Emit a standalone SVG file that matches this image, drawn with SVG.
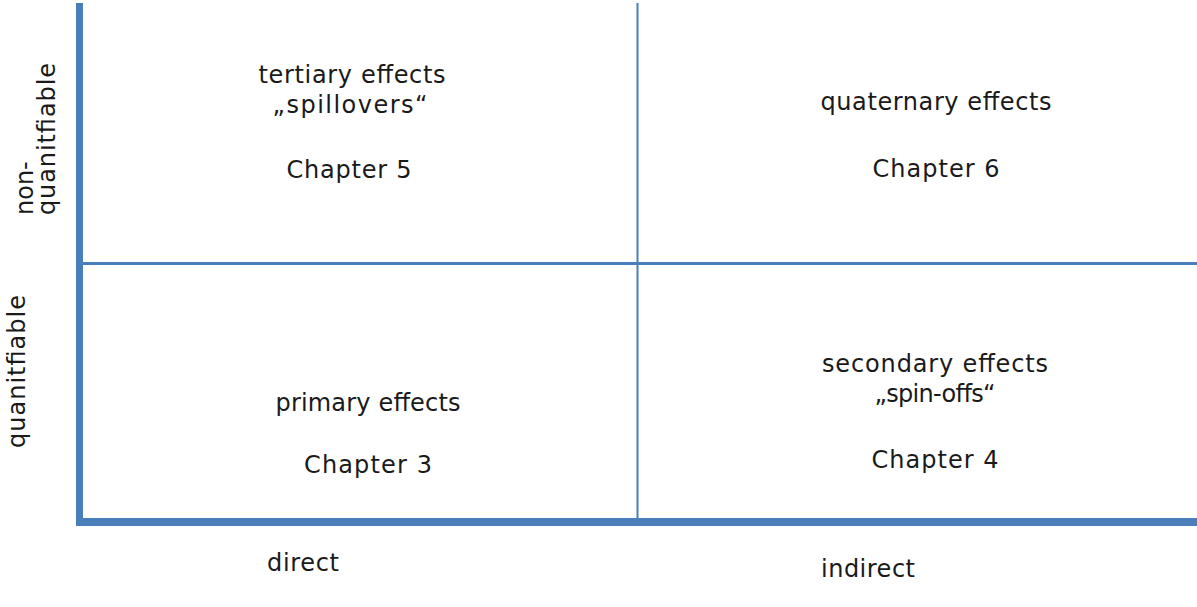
<svg xmlns="http://www.w3.org/2000/svg" width="1197" height="607" viewBox="0 0 1197 607">
<style>
.t{font-family:"DejaVu Sans",sans-serif;font-size:24px;fill:#1a1a1a;text-anchor:middle}
.r{font-family:"DejaVu Sans",sans-serif;font-size:24px;fill:#1a1a1a;text-anchor:start}
.ln{fill:#4a7ebb}
</style>
<rect width="1197" height="607" fill="#ffffff"/>
<g id="connectors">
<rect class="ln" x="76" y="3" width="7" height="519"/>
<rect class="ln" x="76" y="518" width="1121" height="8"/>
<rect class="ln" x="83" y="262" width="1114" height="3"/>
<rect class="ln" x="636.5" y="3" width="2" height="515"/>
</g>
<g id="tertiary">
<text class="t" x="352" y="83" textLength="187" lengthAdjust="spacing">tertiary effects</text>
<text class="t" x="350" y="113" textLength="155" lengthAdjust="spacing">„spillovers“</text>
<text class="t" x="349" y="178" textLength="125" lengthAdjust="spacing">Chapter 5</text>
</g>
<g id="quaternary">
<text class="t" x="936" y="110" textLength="231" lengthAdjust="spacing">quaternary effects</text>
<text class="t" x="936" y="177" textLength="127" lengthAdjust="spacing">Chapter 6</text>
</g>
<g id="primary">
<text class="t" x="368" y="411" textLength="185" lengthAdjust="spacing">primary effects</text>
<text class="t" x="368" y="473" textLength="128" lengthAdjust="spacing">Chapter 3</text>
</g>
<g id="secondary">
<text class="t" x="935" y="372" textLength="226" lengthAdjust="spacing">secondary effects</text>
<text class="t" x="935" y="402" textLength="121" lengthAdjust="spacing">„spin-offs“</text>
<text class="t" x="935" y="468" textLength="127" lengthAdjust="spacing">Chapter 4</text>
</g>
<g id="axis-y">
<text class="r" transform="translate(33,215) rotate(-90)">non-</text>
<text class="r" transform="translate(55,215) rotate(-90)" textLength="152" lengthAdjust="spacing">quanitfiable</text>
<text class="r" transform="translate(25,448) rotate(-90)" textLength="153" lengthAdjust="spacing">quanitfiable</text>
</g>
<g id="axis-x">
<text class="t" x="303" y="571" textLength="72" lengthAdjust="spacing">direct</text>
<text class="t" x="868" y="577" textLength="94" lengthAdjust="spacing">indirect</text>
</g>
</svg>
